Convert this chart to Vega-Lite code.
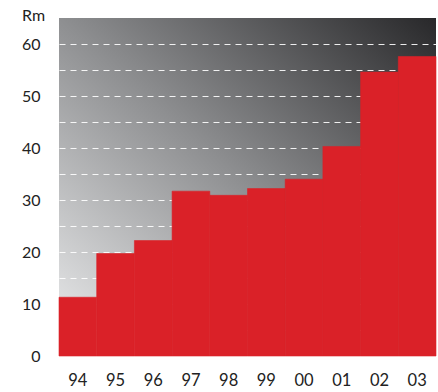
{
  "$schema": "https://vega.github.io/schema/vega-lite/v6.json",
  "width": 377,
  "height": 338,
  "autosize": {"type": "none"},
  "padding": {"left": 59, "top": 18, "right": 2, "bottom": 36},
  "background": "white",
  "config": {
    "view": {
      "stroke": null,
      "fill": {
        "gradient": "linear",
        "x1": 0, "y1": 1, "x2": 1, "y2": 0,
        "stops": [
          {"offset": 0, "color": "#eeeff0"},
          {"offset": 0.5, "color": "#8e8f91"},
          {"offset": 1, "color": "#28282a"}
        ]
      }
    },
    "font": "Lato"
  },
  "data": {
    "values": [
      {"year": "94", "value": 11.3},
      {"year": "95", "value": 19.7},
      {"year": "96", "value": 22.2},
      {"year": "97", "value": 31.7},
      {"year": "98", "value": 30.9},
      {"year": "99", "value": 32.2},
      {"year": "00", "value": 34.0},
      {"year": "01", "value": 40.3},
      {"year": "02", "value": 54.6},
      {"year": "03", "value": 57.6}
    ]
  },
  "mark": {"type": "bar", "color": "#da2128", "stroke": "#da2128", "strokeWidth": 0.6},
  "encoding": {
    "x": {
      "field": "year",
      "type": "ordinal",
      "sort": null,
      "scale": {"paddingInner": 0, "paddingOuter": 0},
      "axis": {
        "title": null,
        "labelAngle": 0,
        "domain": false,
        "ticks": false,
        "labelPadding": 16,
        "labelFontSize": 16.5,
        "labelColor": "#222222"
      }
    },
    "y": {
      "field": "value",
      "type": "quantitative",
      "scale": {"domain": [0, 65], "nice": false},
      "axis": {
        "title": "Rm",
        "titleAngle": 0,
        "titleX": -26,
        "titleY": 2,
        "titleAlign": "center",
        "titleBaseline": "alphabetic",
        "titleFontSize": 16,
        "titleFontWeight": "normal",
        "titleColor": "#222222",
        "values": [0, 5, 10, 15, 20, 25, 30, 35, 40, 45, 50, 55, 60],
        "labelExpr": "datum.value % 10 === 0 ? datum.label : ''",
        "domain": false,
        "ticks": false,
        "labelPadding": 19,
        "labelFontSize": 16,
        "labelColor": "#222222",
        "grid": true,
        "gridColor": "#ffffff",
        "gridDash": [6, 5],
        "gridWidth": 1.2,
        "gridOpacity": {"condition": {"test": "datum.value === 0", "value": 0}, "value": 0.9}
      }
    }
  }
}
